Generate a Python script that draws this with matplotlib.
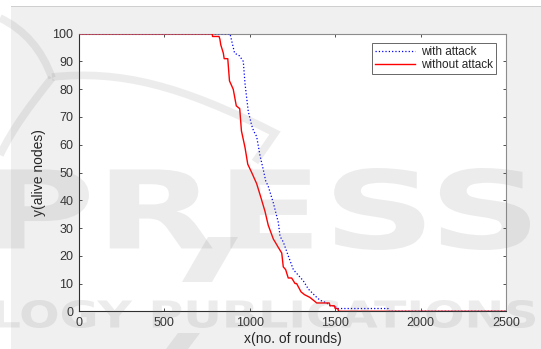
import matplotlib
matplotlib.use('Agg')

import matplotlib.pyplot as plt
from matplotlib.patches import Rectangle, PathPatch, Polygon
from matplotlib.textpath import TextPath
from matplotlib.font_manager import FontProperties
from matplotlib.transforms import Affine2D
from matplotlib.path import Path

# -------------------------
# Data
# -------------------------
rounds_no_attack = [0, 780, 782, 820, 825, 830, 845, 850, 871, 881, 903, 921, 941,
                    951, 972, 988, 1011, 1040, 1060, 1089, 1108, 1138, 1148, 1167,
                    1187, 1196, 1210, 1225, 1245, 1265, 1274, 1300, 1320, 1352,
                    1392, 1465, 1470, 1495, 1500, 1515, 1520, 2500]
alive_no_attack = [100, 100, 99, 99, 98, 96, 93, 91, 91, 83, 80, 74, 73,
                   65, 59, 53, 50, 46, 42, 36, 31, 26, 25, 23,
                   21, 16, 15, 12, 12, 10, 10, 7, 6, 5,
                   3, 3, 2, 2, 1, 1, 0, 0]

rounds_attack = [0, 884, 911, 940, 962, 972, 991, 1011, 1022, 1040, 1060, 1079,
                 1093, 1108, 1138, 1167, 1177, 1196, 1225, 1255, 1284, 1313,
                 1343, 1392, 1411, 1450, 1470, 1499, 1509, 1809, 1812, 2500]
alive_attack = [100, 100, 93, 92, 90, 82, 72, 67, 65, 63, 56, 51,
                47, 45, 39, 32, 27, 25, 20, 15, 13, 11,
                8, 5, 4, 3, 2, 2, 1, 1, 0, 0]

x_ticks = [0, 500, 1000, 1500, 2000, 2500]
y_ticks = list(range(0, 101, 10))

# -------------------------
# Figure
# -------------------------
plt.rcParams['font.family'] = ['Liberation Sans', 'DejaVu Sans']
W, H = 541, 349
fig = plt.figure(figsize=(W / 100, H / 100), dpi=100, facecolor='white')

# grey page background with a thin rule at the top
bg = fig.add_axes([0, 0, 1, 1], zorder=-5)
bg.set_xlim(0, W)
bg.set_ylim(H, 0)
bg.axis('off')
bg.add_patch(Rectangle((11, 7), W - 11, H - 7, fc='#f0f0f0', ec='none'))
bg.add_patch(Rectangle((11, 6), W - 11, 1.2, fc='#cfcfcf', ec='none'))

ax = fig.add_axes([79 / W, (H - 311.3) / H, 427 / W, 277.6 / H], zorder=1)
ax.set_facecolor('white')

ax.plot(rounds_attack, alive_attack, color='#0000ff', ls=':', lw=0.9,
        label='with attack', zorder=3)
ax.plot(rounds_no_attack, alive_no_attack, color='#ff0000', lw=1.0,
        label='without attack', zorder=4)

ax.set_xlim(0, 2500)
ax.set_ylim(0, 100)
ax.set_xticks(x_ticks)
ax.set_yticks(y_ticks)
ax.tick_params(direction='in', length=2.5, width=0.6, top=True, right=True,
               labelsize=9, colors='#333333', pad=4)
for side in ['left', 'bottom']:
    ax.spines[side].set_color('#303030')
for side in ['top', 'right']:
    ax.spines[side].set_color('#8c8c8c')
for s in ax.spines.values():
    s.set_linewidth(0.8)

ax.set_xlabel('x(no. of rounds)', fontsize=10, color='#262626', labelpad=2)
ax.set_ylabel('y(alive nodes)', fontsize=10, color='#262626', labelpad=5)

leg = ax.legend(loc='upper right', bbox_to_anchor=(0.976, 0.967), fontsize=8.5,
                fancybox=False, handlelength=3.4, handletextpad=0.5,
                borderpad=0.25, labelspacing=0.1, borderaxespad=0)
leg.get_frame().set_edgecolor('#404040')
leg.get_frame().set_linewidth(0.7)
for t in leg.get_texts():
    t.set_color('#262626')

# -------------------------
# Faint publisher watermark over everything
# -------------------------
wm = fig.add_axes([0, 0, 1, 1], zorder=10)
wm.set_xlim(0, W)
wm.set_ylim(H, 0)
wm.axis('off')
wm.patch.set_alpha(0)

wm_color = '#707070'
wm_alpha = 0.13


def wm_text(s, x0, x1, y0, y1):
    tp = TextPath((0, 0), s, size=100,
                  prop=FontProperties(family='DejaVu Sans', weight='bold'))
    bb = tp.get_extents()
    tr = (Affine2D().translate(-bb.x0, -bb.y0)
          .scale((x1 - x0) / bb.width, -(y1 - y0) / bb.height)
          .translate(x0, y1))
    wm.add_patch(PathPatch(tr.transform_path(tp), fc=wm_color, ec='none',
                           alpha=wm_alpha))


def wm_stroke(verts, codes):
    wm.add_patch(PathPatch(Path(verts, codes), fc='none', ec=wm_color, lw=5.5,
                           alpha=wm_alpha, capstyle='butt', joinstyle='miter'))


wm_text('PRESS', -5, 530, 168, 250)
wm_text('LOGY PUBLICATIONS', -5, 535, 300, 328)

# slashes from the logo
wm.add_patch(Polygon([(208, 237), (238, 237), (212, 282), (182, 282)],
                     fc=wm_color, ec='none', alpha=wm_alpha))
wm.add_patch(Polygon([(178, 333), (200, 333), (188, 349), (166, 349)],
                     fc=wm_color, ec='none', alpha=wm_alpha))

# logo arcs
C4 = Path.CURVE4
wm_stroke([(0, 18), (25, 30), (42, 50), (52, 78)], [Path.MOVETO, C4, C4, C4])
wm_stroke([(52, 78), (30, 105), (12, 130), (0, 155)], [Path.MOVETO, C4, C4, C4])
wm_stroke([(52, 77), (120, 70), (180, 85), (275, 133), (255, 162)],
          [Path.MOVETO, C4, C4, C4, Path.LINETO])

fig.savefig('out.png', dpi=100, facecolor=fig.get_facecolor())
